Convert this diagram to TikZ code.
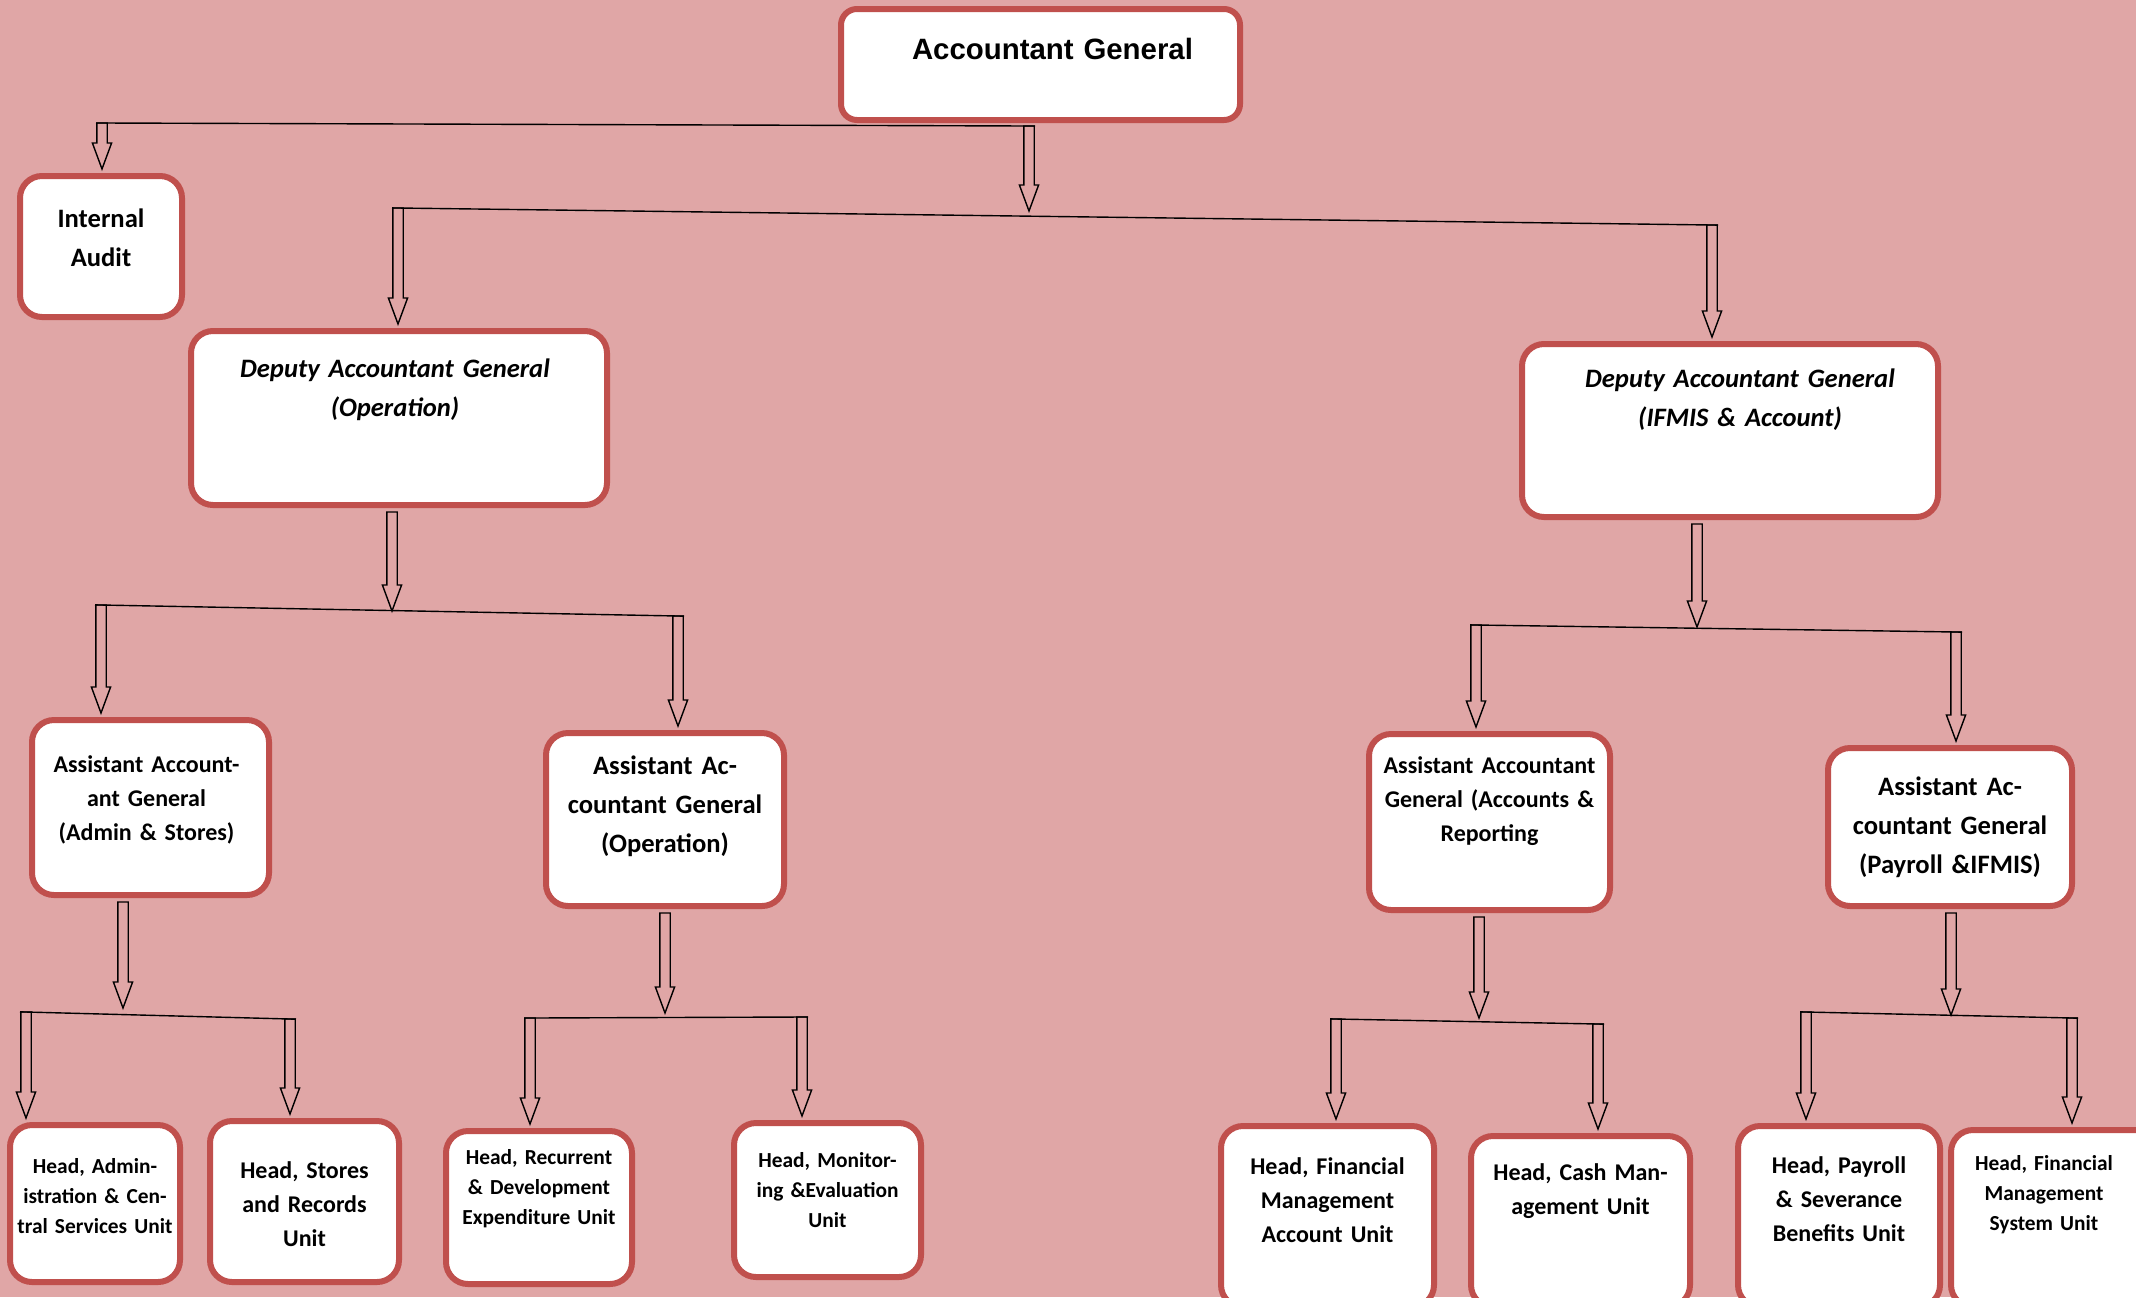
\documentclass[tikz,border=0pt]{standalone}
\usepackage{fontspec}
\setmainfont{Carlito}
\newfontfamily\arialfont{Liberation Sans}
\usepackage{tikz}
\usetikzlibrary{calc}
\definecolor{orgpink}{RGB}{224,166,166}
\definecolor{orgred}{RGB}{192,80,77}
\newcommand{\bigfont}{\fontsize{13.3}{19.5}\selectfont\bfseries}
\newcommand{\midfont}{\fontsize{12}{17}\selectfont\bfseries}
\newcommand{\smallfont}{\fontsize{10.7}{15}\selectfont\bfseries}
\tikzset{
  unit/.code n args={3}{%
    \pgfmathsetmacro\unitwd{#1-4}%
    \pgfmathsetmacro\unitdp{#2-#3}%
    \tikzset{draw=orgred, line width=3pt, fill=white, rounded corners=11pt,
      inner sep=0pt, outer sep=3.5pt, align=center, minimum width=#1pt,
      text width=\unitwd pt, text height=#3pt, text depth=\unitdp pt}},
  hollow/.style={draw=black, line width=0.7pt, to path={
    let \p1=(\tikztostart), \p2=(\tikztotarget) in
    (\x1-2.6pt,\y1) -- (\x1-2.6pt,\y2+13pt) -- (\x1-4.8pt,\y2+13pt) -- (\x1,\y2)
    -- (\x1+4.8pt,\y2+13pt) -- (\x1+2.6pt,\y2+13pt) -- (\x1+2.6pt,\y1) -- cycle}},
  bar/.style={draw=black, line width=0.7pt, shorten <=-3pt, shorten >=-3pt}
}

\begin{document}
\begin{tikzpicture}[x=0.5pt, y=-0.5pt]
\useasboundingbox (0,0) rectangle (2136,1297);
\fill[orgpink] (0,0) rectangle (2136,1297);
\clip (0,0) rectangle (2136,1297);

% top level
\node[unit={199.5}{55.5}{25}, rounded corners=8pt, font=\arialfont\fontsize{14.7}{18}\selectfont\bfseries] (ag) at (1040.5,64.5) {\hspace*{12pt}Accountant General};
\node[unit={81}{70.5}{25.5}, font=\bigfont] (ia) at (101,246.5) {Internal\\Audit};

% deputies
\node[unit={208}{87}{23}, font=\bigfont\itshape] (dop) at (399,418) {\hspace*{-4pt}Deputy Accountant General\\\hspace*{-4pt}(Operation)};
\node[unit={208}{86.5}{21.5}, font=\bigfont\itshape] (difmis) at (1730,430.5) {\hspace*{10pt}Deputy Accountant General\\\hspace*{10pt}(IFMIS \& Account)};

% assistants
\node[unit={118.5}{87.5}{26}, font=\midfont] (aadm) at (150.5,807.5) {\hspace*{-4pt}Assistant Account-\\\hspace*{-4pt}ant General\\\hspace*{-4pt}(Admin \& Stores)};
\node[unit={119}{86.5}{20.5}, font=\bigfont] (aop) at (665,819.5) {Assistant Ac-\\countant General\\(Operation)};
\node[unit={120.5}{88}{19.5}, font=\midfont] (aacc) at (1489.5,822) {Assistant Accountant\\General (Accounts \&\\Reporting};
\node[unit={122}{79}{23.5}, font=\bigfont] (apay) at (1950,827) {Assistant Ac-\\countant General\\(Payroll \&IFMIS)};

% heads
\node[unit={85}{78.5}{24}, font=\smallfont] (hadm) at (95,1203.5) {Head, Admin-\\istration \& Cen-\\tral Services Unit};
\node[unit={94.5}{80.5}{28.5}, font=\midfont] (hsto) at (304.5,1201.5) {Head, Stores\\and Records\\Unit};
\node[unit={93}{76.5}{16.5}, font=\smallfont] (hrec) at (539,1207.5) {Head, Recurrent\\\& Development\\Expenditure Unit};
\node[unit={93.5}{77}{22}, font=\smallfont] (hme) at (827.5,1200) {Head, Monitor-\\ing \&Evaluation\\Unit};
\node[unit={106.5}{90.5}{24}, font=\midfont] (hfma) at (1327.5,1216.5) {Head, Financial\\Management\\Account Unit};
\node[unit={109.5}{85.5}{22}, font=\midfont] (hcash) at (1580.5,1221.5) {Head, Cash Man-\\agement Unit};
\node[unit={101}{90.5}{23.5}, font=\midfont] (hpay) at (1839,1216.5) {Head, Payroll\\\& Severance\\Benefits Unit};
\node[unit={103}{88.5}{20}, font=\smallfont] (hfms) at (2054,1218.5) {\hspace*{-10pt}Head, Financial\\\hspace*{-10pt}Management\\\hspace*{-10pt}System Unit};

% bar ends and junctions
\coordinate (b1l) at (102,123);
\coordinate (b1r) at (1029,126);
\coordinate (j2) at (1029,211);
\coordinate (b2l) at (398,208);
\coordinate (b2r) at (1712,225);
\coordinate (j3) at (392,611);
\coordinate (b3l) at (101,605);
\coordinate (b3r) at (678,616);
\coordinate (j6) at (1697,627);
\coordinate (b6l) at (1476,625);
\coordinate (b6r) at (1956,632);
\coordinate (j4) at (123,1008);
\coordinate (b4l) at (26,1012);
\coordinate (b4r) at (290,1019);
\coordinate (j5) at (665,1013);
\coordinate (b5l) at (530,1018);
\coordinate (b5r) at (802,1017);
\coordinate (j7) at (1479,1018);
\coordinate (b7l) at (1336,1019);
\coordinate (b7r) at (1598,1024);
\coordinate (j8) at (1951,1015);
\coordinate (b8l) at (1806,1012);
\coordinate (b8r) at (2072,1018);

\draw[bar] (b1l) -- (b1r);
\draw[bar] (b2l) -- (b2r);
\draw[bar] (b3l) -- (b3r);
\draw[bar] (b4l) -- (b4r);
\draw[bar] (b5l) -- (b5r);
\draw[bar] (b6l) -- (b6r);
\draw[bar] (b7l) -- (b7r);
\draw[bar] (b8l) -- (b8r);

\draw[hollow] (b1l) to (b1l |- ia.north);
\draw[hollow] (b1r) to (j2);
\draw[hollow] (b2l) to (b2l |- dop.north);
\draw[hollow] (b2r) to (b2r |- difmis.north);

\draw[hollow] (dop.south -| j3) to (j3);
\draw[hollow] (b3l) to (b3l |- aadm.north);
\draw[hollow] (b3r) to (b3r |- aop.north);
\draw[hollow] (difmis.south -| j6) to (j6);
\draw[hollow] (b6l) to (b6l |- aacc.north);
\draw[hollow] (b6r) to (b6r |- apay.north);

\draw[hollow] (aadm.south -| j4) to (j4);
\draw[hollow] (b4l) to (b4l |- hadm.north);
\draw[hollow] (b4r) to (b4r |- hsto.north);
\draw[hollow] (aop.south -| j5) to (j5);
\draw[hollow] (b5l) to (b5l |- hrec.north);
\draw[hollow] (b5r) to (b5r |- hme.north);
\draw[hollow] (aacc.south -| j7) to (j7);
\draw[hollow] (b7l) to (b7l |- hfma.north);
\draw[hollow] (b7r) to (b7r |- hcash.north);
\draw[hollow] (apay.south -| j8) to (j8);
\draw[hollow] (b8l) to (b8l |- hpay.north);
\draw[hollow] (b8r) to (b8r |- hfms.north);
\end{tikzpicture}
\end{document}
